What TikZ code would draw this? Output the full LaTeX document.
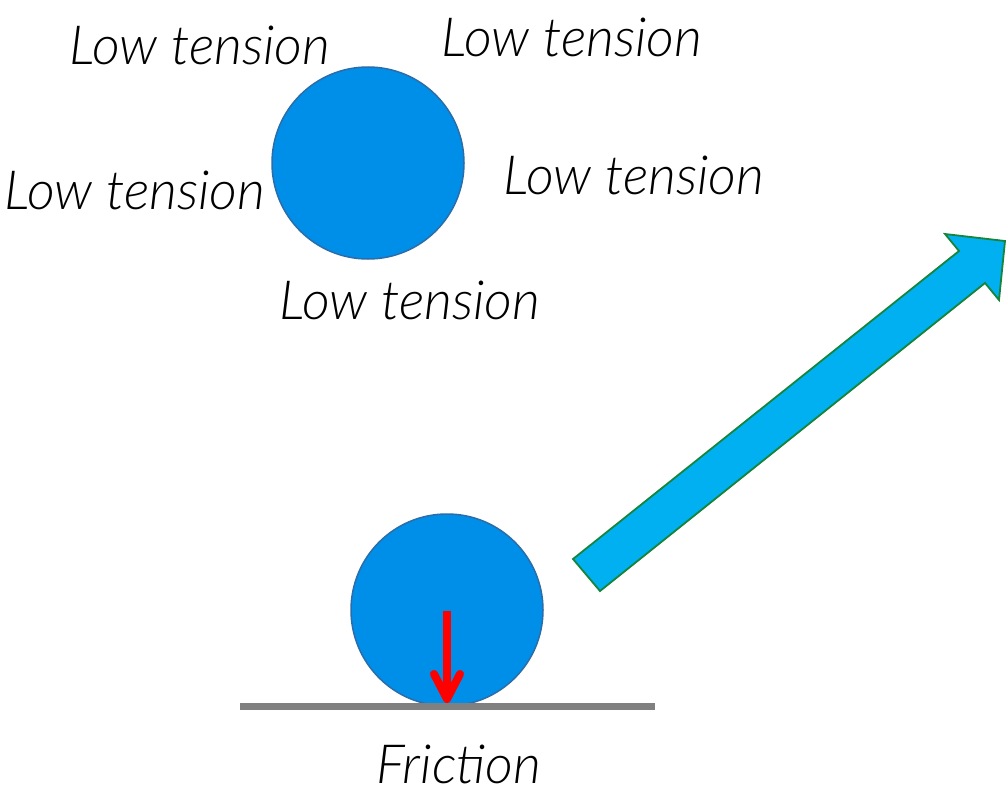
\documentclass[tikz,border=0pt]{standalone}
\usepackage{fontspec}
\setmainfont{Lato}[UprightFont=* Light, ItalicFont=* Light Italic]
\definecolor{ballfill}{HTML}{008FE8}
\definecolor{balledge}{HTML}{2A6DAA}
\definecolor{arrfill}{HTML}{00B0F0}
\definecolor{arredge}{HTML}{17843C}
\definecolor{ground}{HTML}{808080}
\tikzset{
  lbl/.style={font=\fontsize{54}{62}\selectfont\itshape, inner sep=0pt, anchor=center},
  ball/.style={circle, fill=ballfill, draw=balledge, line width=1.5pt, minimum size=192pt, inner sep=0pt},
  redline/.style={red, line width=8pt},
}
\begin{document}
\begin{tikzpicture}[x=1pt,y=-1pt]
\useasboundingbox (0,0) rectangle (1008,792);
\node[ball] (top) at (368,163) {};
\node[ball] (bot) at (447,610) {};
\node[lbl] (t1) at (200,45) {Low tension};
\node[lbl] (t2) at (572,37) {Low tension};
\node[lbl] (t3) at (135,190) {Low tension};
\node[lbl] (t4) at (634,175) {Low tension};
\node[lbl] (t5) at (410,300) {Low tension};
\node[lbl] (fr) at (459,764) {Friction};
\coordinate (gl) at (240,706);
\coordinate (gr) at (655,706);
\draw[ground, line width=7pt] (gl) -- (gr);
\coordinate (rs) at (447,611);
\coordinate (re) at (447,699);
\draw[redline] (rs) -- (re);
\draw[redline, line cap=round, line join=round] (434,674) -- (re) -- (460,674);
\draw[fill=arrfill, draw=arredge, line width=1.8pt, line join=miter]
  (573,559) -- (600,591) -- (985,283) -- (999,300) -- (1005,241) -- (945,234) -- (959,251) -- cycle;
\end{tikzpicture}
\end{document}
